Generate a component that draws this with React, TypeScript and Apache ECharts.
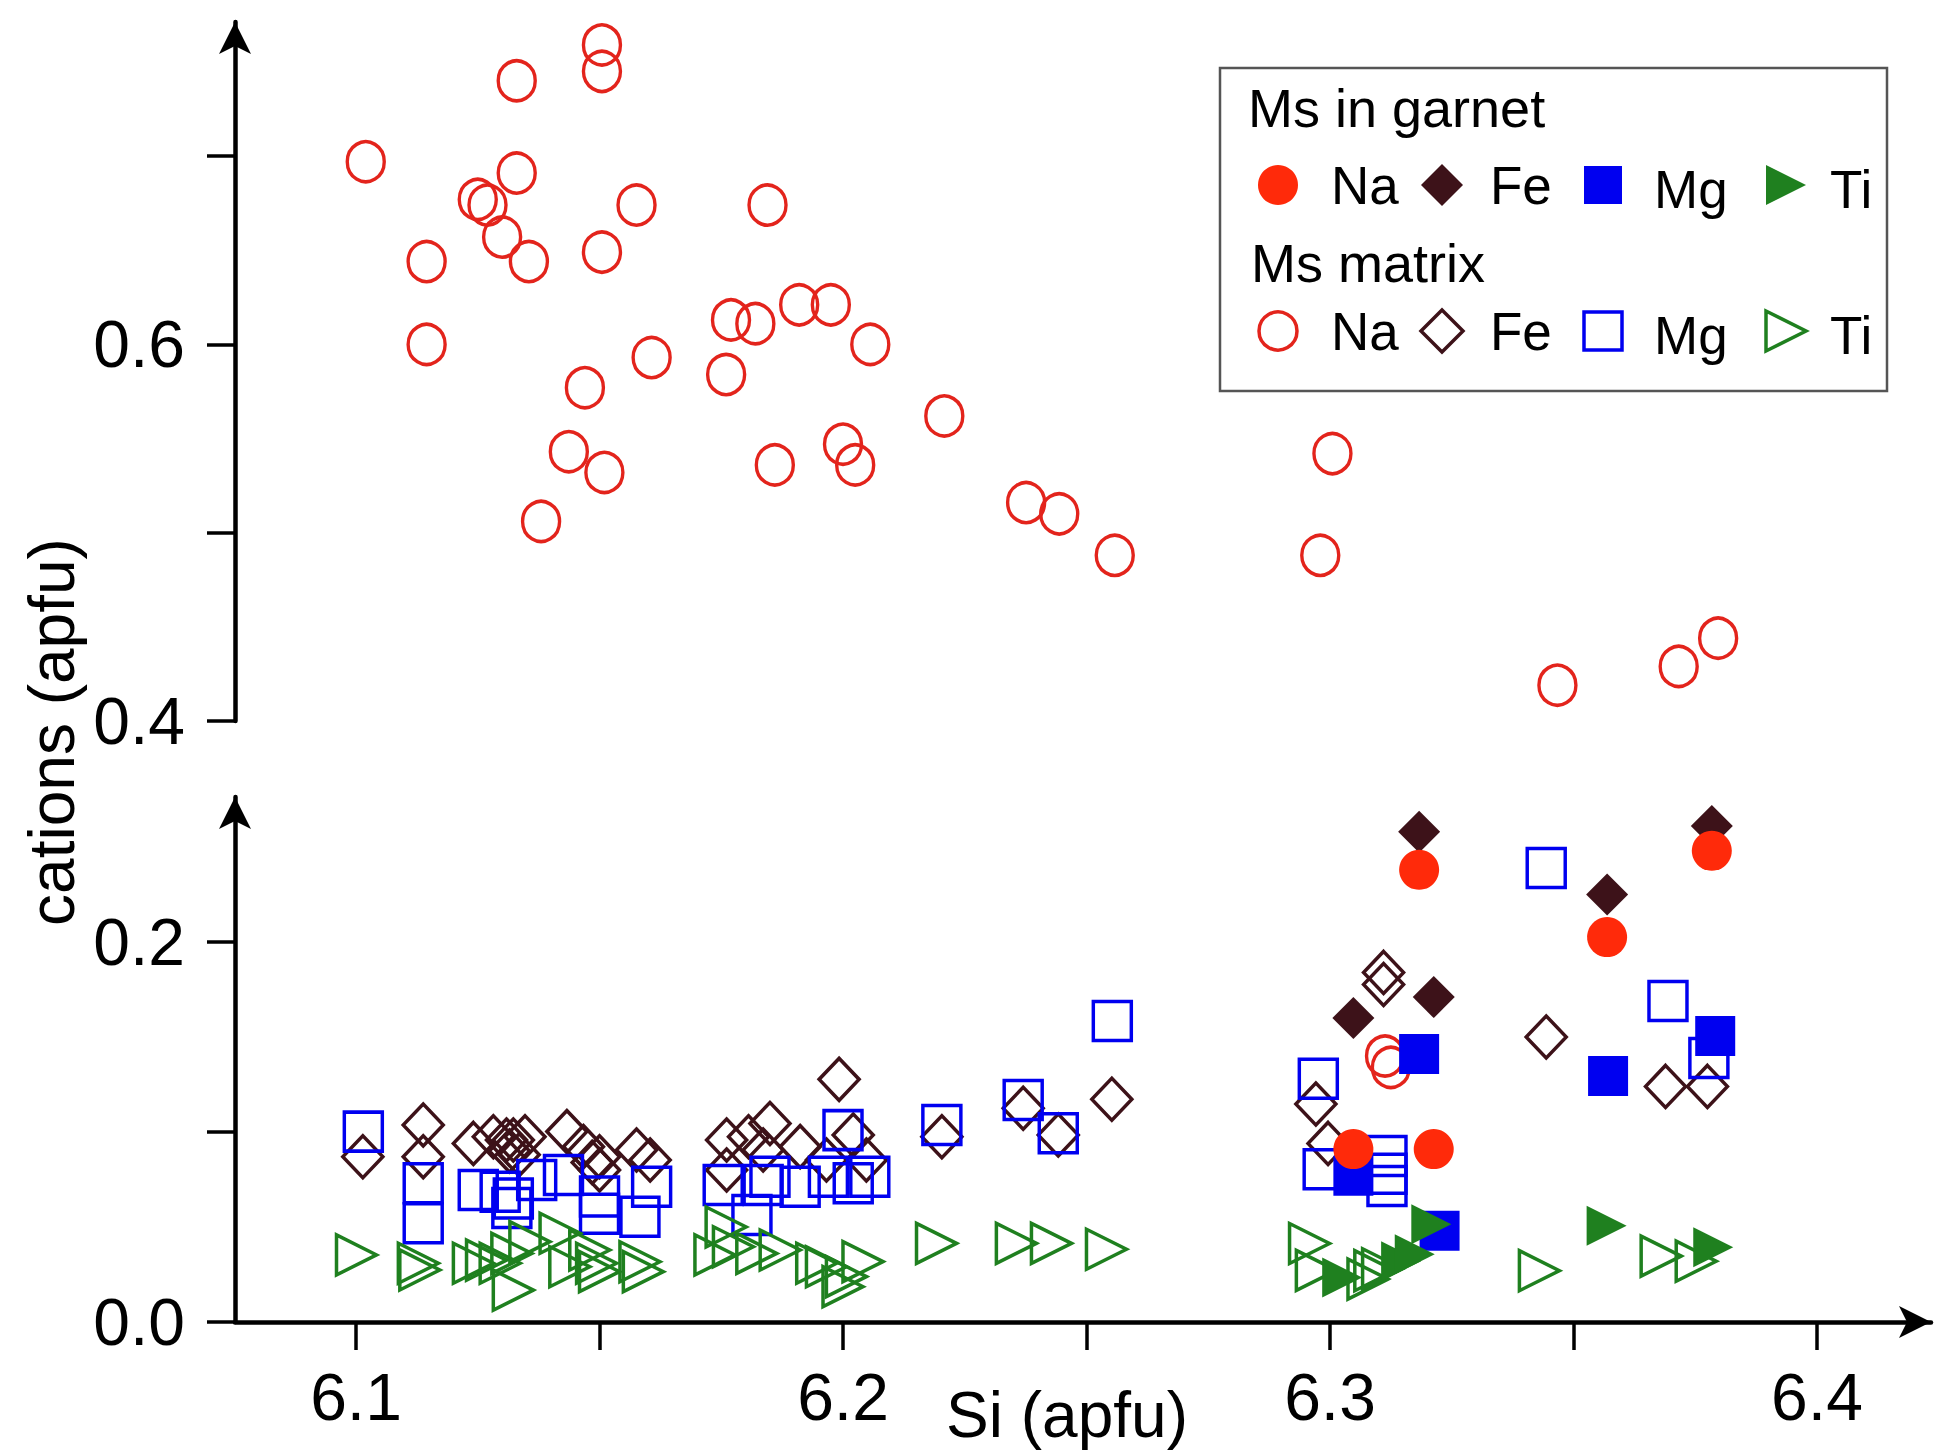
import React, { useEffect, useRef } from "react";
import * as echarts from "echarts";

const FONT = "'Liberation Sans', Arial, Helvetica, sans-serif";

// axis ticks / labels
const xTickValues = [6.1, 6.15, 6.2, 6.25, 6.3, 6.35, 6.4];
const xLabelValues = [6.1, 6.2, 6.3, 6.4];
const upperTickValues = [0.4, 0.5, 0.6, 0.7];
const upperLabelValues = [0.4, 0.6];
const lowerTickValues = [0, 0.1, 0.2];
const lowerLabelValues = [0, 0.2];

// Ms matrix (open symbols)
const matrixNaUpper = [
  [6.102, 0.697], [6.1145, 0.644], [6.1145, 0.6], [6.125, 0.677], [6.127, 0.674],
  [6.13, 0.657], [6.133, 0.74], [6.133, 0.691], [6.1355, 0.644], [6.138, 0.506],
  [6.1437, 0.543], [6.147, 0.577], [6.1505, 0.759], [6.1505, 0.745], [6.1505, 0.649],
  [6.151, 0.532], [6.1576, 0.674], [6.1607, 0.593], [6.176, 0.584], [6.177, 0.613],
  [6.182, 0.611], [6.1845, 0.674], [6.186, 0.536], [6.191, 0.621], [6.1975, 0.621],
  [6.2, 0.547], [6.2025, 0.536], [6.2056, 0.6], [6.2208, 0.562], [6.2376, 0.516],
  [6.2444, 0.51], [6.2558, 0.488], [6.298, 0.488], [6.3005, 0.542], [6.3467, 0.419],
  [6.3716, 0.429], [6.3797, 0.444],
];
const matrixNaLower = [[6.3113, 0.14], [6.3125, 0.134]];

const matrixFe = [
  [6.1014, 0.087], [6.1138, 0.1037], [6.1138, 0.087], [6.1241, 0.094], [6.1282, 0.0975],
  [6.1309, 0.0958], [6.1323, 0.0958], [6.1347, 0.0975], [6.1315, 0.09], [6.1335, 0.088],
  [6.1433, 0.1002], [6.1467, 0.0923], [6.15, 0.087], [6.15, 0.08], [6.1485, 0.084],
  [6.1576, 0.0905], [6.1604, 0.0853], [6.1761, 0.0958], [6.1761, 0.08], [6.1806, 0.0975],
  [6.185, 0.1045], [6.1836, 0.0905], [6.1912, 0.0923], [6.1966, 0.0853], [6.1992, 0.1277],
  [6.2021, 0.0984], [6.2048, 0.0853], [6.2203, 0.0975], [6.237, 0.1125], [6.2442, 0.0984],
  [6.2552, 0.1172], [6.2971, 0.1147], [6.2996, 0.094], [6.311, 0.184], [6.311, 0.1776],
  [6.3444, 0.15], [6.3689, 0.124], [6.3775, 0.124],
];

const matrixMg = [
  [6.1015, 0.1002], [6.1138, 0.073], [6.1138, 0.052], [6.1251, 0.0695], [6.1296, 0.0686],
  [6.1323, 0.065], [6.132, 0.06], [6.1371, 0.0747], [6.1426, 0.0774], [6.15, 0.066],
  [6.15, 0.057], [6.1583, 0.0554], [6.1607, 0.0712], [6.1754, 0.0721], [6.1813, 0.0563],
  [6.1836, 0.0721], [6.185, 0.0765], [6.1912, 0.0712], [6.197, 0.0765], [6.2, 0.101],
  [6.2021, 0.073], [6.2055, 0.0765], [6.2203, 0.1037], [6.237, 0.1168], [6.2442, 0.0993],
  [6.2553, 0.1584], [6.2976, 0.128], [6.2986, 0.0804], [6.3117, 0.0874], [6.3117, 0.078],
  [6.3117, 0.0716], [6.3444, 0.239], [6.3694, 0.169], [6.3778, 0.139],
];

const matrixTi = [
  [6.1001, 0.0353], [6.1128, 0.0309], [6.1131, 0.0274], [6.1241, 0.0309], [6.1268, 0.0326],
  [6.1296, 0.0309], [6.132, 0.0361], [6.1357, 0.0423], [6.1323, 0.0168], [6.1419, 0.0467],
  [6.1439, 0.0291], [6.148, 0.0379], [6.1494, 0.0309], [6.15, 0.0265], [6.1583, 0.0317],
  [6.159, 0.0265], [6.1737, 0.0353], [6.176, 0.05], [6.1775, 0.0396], [6.1823, 0.0361],
  [6.1871, 0.0379], [6.1946, 0.0309], [6.1966, 0.0291], [6.2, 0.0186], [6.2007, 0.0239],
  [6.2041, 0.0318], [6.2192, 0.0414], [6.2356, 0.0414], [6.2428, 0.0414], [6.2541, 0.0383],
  [6.2958, 0.0413], [6.2972, 0.0272], [6.3078, 0.0226], [6.3092, 0.027], [6.3108, 0.028],
  [6.343, 0.027], [6.368, 0.0347], [6.3752, 0.032],
];

// Ms in garnet (filled symbols)
const garnetNa = [[6.3183, 0.238], [6.3048, 0.091], [6.3213, 0.091], [6.3569, 0.2026], [6.3784, 0.248]];
const garnetFe = [[6.3183, 0.258], [6.3048, 0.16], [6.3213, 0.171], [6.3569, 0.225], [6.3784, 0.261]];
const garnetMg = [[6.3183, 0.141], [6.3048, 0.077], [6.3225, 0.048], [6.3571, 0.1295], [6.3791, 0.1505]];
const garnetTi = [[6.3025, 0.0234], [6.3146, 0.032], [6.3174, 0.0356], [6.3208, 0.0515], [6.3568, 0.0507], [6.3787, 0.0394]];

const RED_FILL = "#ff2a0a";
const RED_LINE = "#e3241c";
const FE_COL = "#3d1219";
const MG_COL = "#0000f0";
const TI_COL = "#1f801f";

const fmt = (v: number) => v.toFixed(1);

function openS(name: string, data: number[][], symbol: string, color: string, size: any, rotate: number, gi: number) {
  return {
    type: "scatter", name, data, symbol, symbolSize: size, symbolRotate: rotate,
    xAxisIndex: gi, yAxisIndex: gi, silent: true,
    itemStyle: { color: "rgba(0,0,0,0)", borderColor: color, borderWidth: 3.5, opacity: 1 },
  };
}
function fillS(name: string, data: number[][], symbol: string, color: string, size: any, rotate: number) {
  return {
    type: "scatter", name, data, symbol, symbolSize: size, symbolRotate: rotate,
    xAxisIndex: 0, yAxisIndex: 0, silent: true,
    itemStyle: { color, borderWidth: 0, opacity: 1 },
  };
}

function yAxisCfg(gi: number, min: number, max: number, ticks: number[], labels: number[]) {
  return {
    gridIndex: gi, type: "value", min, max,
    axisLine: { show: true, onZero: false, symbol: ["none", "arrow"], symbolSize: [24, 32], lineStyle: { color: "#000", width: 4.5 } },
    axisTick: { show: true, length: 28, lineStyle: { color: "#000", width: 3.5 }, customValues: ticks },
    axisLabel: { customValues: labels, formatter: fmt, margin: 50, fontSize: 66, color: "#000", fontFamily: FONT },
    splitLine: { show: false },
  };
}

function legendRow(y: number, filled: boolean) {
  const els: any[] = [];
  const st = (c: string) => (filled ? { fill: c } : { fill: "none", stroke: c, lineWidth: 3.5 });
  els.push({ type: "circle", z: 20, shape: { cx: 1278, cy: y, r: filled ? 20 : 19 }, style: st(filled ? RED_FILL : RED_LINE) });
  els.push({ type: "polygon", z: 20, shape: { points: [[1442, y - 21], [1463, y], [1442, y + 21], [1421, y]] }, style: st(FE_COL) });
  els.push({ type: "rect", z: 20, shape: { x: 1584, y: y - 19, width: 38, height: 38 }, style: st(MG_COL) });
  els.push({ type: "polygon", z: 20, shape: { points: [[1766, y - 20], [1806, y], [1766, y + 20]] }, style: st(TI_COL) });
  const txt = (x: number, t: string, dy: number) => ({ type: "text", z: 20, x, y: y + dy, style: { text: t, fontSize: 53, fontFamily: FONT, fill: "#000", textAlign: "left", textVerticalAlign: "middle" } });
  els.push(txt(1331, "Na", 0), txt(1490, "Fe", 0), txt(1654, "Mg", 4), txt(1830, "Ti", 4));
  return els;
}

export default function App() {
  const ref = useRef<HTMLDivElement>(null);
  useEffect(() => {
    if (!ref.current) return;
    const chart = echarts.init(ref.current, undefined, { renderer: "svg" });
    const option: any = {
      animation: false,
      backgroundColor: "#fff",
      grid: [
        { left: 235, top: 797, width: 1696, height: 525 },
        { left: 235, top: 22, width: 1696, height: 699 },
      ],
      xAxis: [
        {
          gridIndex: 0, type: "value", min: 6.07515, max: 6.42341,
          axisLine: { show: true, onZero: false, symbol: ["none", "arrow"], symbolSize: [24, 32], lineStyle: { color: "#000", width: 4.5 } },
          axisTick: { show: true, length: 28, lineStyle: { color: "#000", width: 3.5 }, customValues: xTickValues },
          axisLabel: { customValues: xLabelValues, formatter: fmt, margin: 75, verticalAlign: "middle", fontSize: 66, color: "#000", fontFamily: FONT },
          splitLine: { show: false },
        },
        { gridIndex: 1, type: "value", min: 6.07515, max: 6.42341, show: false, splitLine: { show: false } },
      ],
      yAxis: [
        yAxisCfg(0, 0, 0.27632, lowerTickValues, lowerLabelValues),
        yAxisCfg(1, 0.4, 0.7712, upperTickValues, upperLabelValues),
      ],
      series: [
        openS("Na matrix", matrixNaUpper, "circle", RED_LINE, [37, 40], 0, 1),
        openS("Fe matrix", matrixFe, "diamond", FE_COL, [40, 42], 0, 0),
        openS("Mg matrix", matrixMg, "rect", MG_COL, [38, 39], 0, 0),
        openS("Ti matrix", matrixTi, "triangle", TI_COL, [40, 40], -90, 0),
        openS("Na matrix low", matrixNaLower, "circle", RED_LINE, [37, 40], 0, 0),
        fillS("Mg garnet", garnetMg, "rect", MG_COL, [40, 40], 0),
        fillS("Fe garnet", garnetFe, "diamond", FE_COL, [42, 42], 0),
        fillS("Na garnet", garnetNa, "circle", RED_FILL, [40, 40], 0),
        fillS("Ti garnet", garnetTi, "triangle", TI_COL, [40, 40], -90),
      ],
      graphic: [
        { type: "rect", z: 10, shape: { x: 1220, y: 68, width: 667, height: 323 }, style: { fill: "#fff", stroke: "#555", lineWidth: 2.5 } },
        { type: "text", z: 20, x: 1248, y: 108, style: { text: "Ms in garnet", fontSize: 54, fontFamily: FONT, fill: "#000", textAlign: "left", textVerticalAlign: "middle" } },
        ...legendRow(185, true),
        { type: "text", z: 20, x: 1251, y: 263, style: { text: "Ms matrix", fontSize: 54, fontFamily: FONT, fill: "#000", textAlign: "left", textVerticalAlign: "middle" } },
        ...legendRow(331, false),
        { type: "text", x: 1067, y: 1415, style: { text: "Si (apfu)", fontSize: 64, fontFamily: FONT, fill: "#000", textAlign: "center", textVerticalAlign: "middle" } },
        { type: "text", x: 52, y: 732, rotation: Math.PI / 2, style: { text: "cations (apfu)", fontSize: 64, fontFamily: FONT, fill: "#000", textAlign: "center", textVerticalAlign: "middle" } },
      ],
    };
    chart.setOption(option);
    return () => chart.dispose();
  }, []);
  return <div ref={ref} style={{ position: "absolute", left: 0, top: 0, width: 1938, height: 1455, background: "#fff" }} />;
}
